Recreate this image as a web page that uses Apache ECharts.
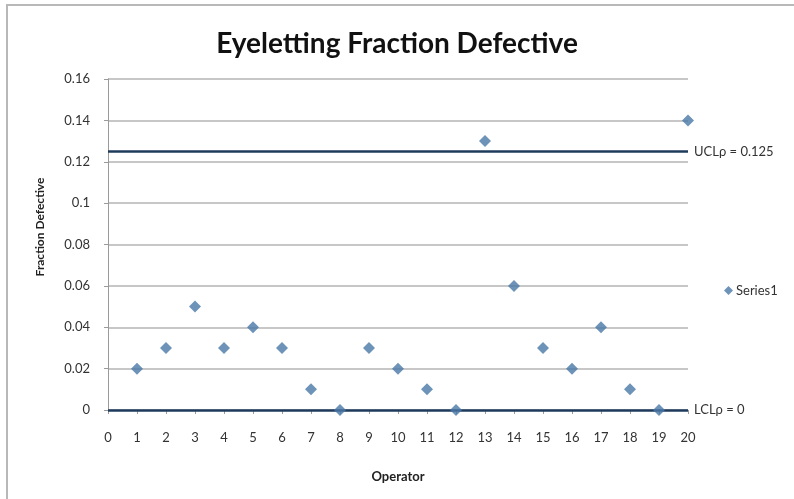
<!DOCTYPE html>
<html>
<head>
<meta charset="utf-8">
<script src="https://cdn.jsdelivr.net/npm/echarts@6/dist/echarts.min.js"></script>
<style>
  html, body { margin: 0; padding: 0; background: #fff; }
  #chart { width: 794px; height: 499px; }
</style>
</head>
<body>
<div id="chart"></div>
<script>
// Operator numbers and their fraction defective
const operators = [1, 2, 3, 4, 5, 6, 7, 8, 9, 10, 11, 12, 13, 14, 15, 16, 17, 18, 19, 20];
const fractionDefective = [0.02, 0.03, 0.05, 0.03, 0.04, 0.03, 0.01, 0, 0.03, 0.02,
                           0.01, 0, 0.13, 0.06, 0.03, 0.02, 0.04, 0.01, 0, 0.14];
// Control limits
const ucl = 0.125;
const lcl = 0;
const uclLabel = 'UCLρ = 0.125';
const lclLabel = 'LCLρ = 0';

const font = 'Lato, "Open Sans", sans-serif';
const points = operators.map((op, i) => [op, fractionDefective[i]]);

const chart = echarts.init(document.getElementById('chart'));
chart.setOption({
  backgroundColor: '#ffffff',
  animation: false,
  textStyle: { fontFamily: font },
  title: {
    text: 'Eyeletting Fraction Defective',
    left: 'center',
    top: 25,
    textStyle: { fontFamily: font, fontSize: 28, fontWeight: 'bold', color: '#111' }
  },
  legend: {
    data: ['Series1'],
    left: 719,
    top: 279,
    icon: 'diamond',
    itemWidth: 9,
    itemHeight: 9,
    itemGap: 4,
    textStyle: { fontFamily: font, fontSize: 13, color: '#333', padding: [0, 0, 0, -2] }
  },
  grid: { left: 108, right: 106, top: 79, bottom: 89 },
  xAxis: {
    type: 'value',
    min: 0,
    max: 20,
    interval: 1,
    name: 'Operator',
    nameLocation: 'middle',
    nameGap: 60,
    nameTextStyle: { fontFamily: font, fontSize: 13, fontWeight: 'bold', color: '#222' },
    axisLine: { lineStyle: { color: '#9a9a9a', width: 1 } },
    axisTick: { show: true, length: 4, lineStyle: { color: '#9a9a9a' } },
    axisLabel: { fontFamily: font, fontSize: 13, color: '#333', margin: 21 },
    splitLine: { show: false }
  },
  yAxis: {
    type: 'value',
    min: 0,
    max: 0.16,
    interval: 0.02,
    axisLine: { show: true, lineStyle: { color: '#9a9a9a', width: 1 } },
    axisTick: { show: true, length: 4, lineStyle: { color: '#9a9a9a' } },
    axisLabel: {
      fontFamily: font, fontSize: 13, color: '#333', margin: 18,
      formatter: v => String(+v.toFixed(2))
    },
    splitLine: { show: true, lineStyle: { color: '#b4b4b4', width: 1.5 } }
  },
  series: [{
    name: 'Series1',
    type: 'scatter',
    data: points,
    symbol: 'diamond',
    symbolSize: 12,
    itemStyle: { color: '#4a78a8' },
    z: 5,
    markLine: {
      silent: true,
      symbol: 'none',
      precision: 3,
      lineStyle: { color: '#1f3b5c', width: 2.5, type: 'solid' },
      label: {
        position: 'end',
        distance: 6,
        fontFamily: font,
        fontSize: 13,
        color: '#333'
      },
      data: [
        { yAxis: ucl, label: { formatter: uclLabel } },
        { yAxis: lcl, label: { formatter: lclLabel } }
      ]
    }
  }],
  graphic: [{
    type: 'rect',
    shape: { x: 7, y: 5, width: 820, height: 520 },
    style: { fill: 'none', stroke: '#b8b8b8', lineWidth: 2 },
    silent: true,
    z: -1
  }, {
    // vertical axis title
    type: 'text',
    x: 40,
    y: 227,
    rotation: Math.PI / 2,
    style: {
      text: 'Fraction Defective',
      fontFamily: font,
      fontSize: 12,
      fontWeight: 'bold',
      fill: '#222',
      align: 'center',
      verticalAlign: 'middle'
    },
    silent: true
  }]
});
</script>
</body>
</html>
